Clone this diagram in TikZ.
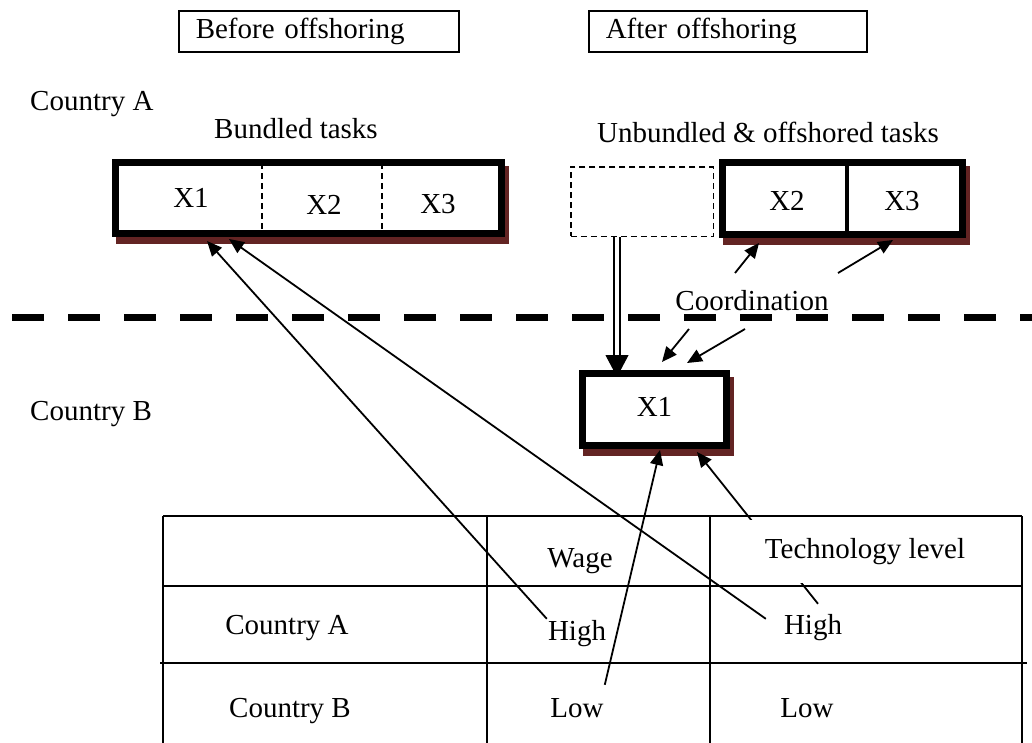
\documentclass[tikz,border=0pt]{standalone}
\usepackage{fontspec}
\setmainfont{Liberation Serif}
\usetikzlibrary{arrows.meta,backgrounds,calc}
\definecolor{shadowred}{RGB}{99,36,35}
\begin{document}
\begin{tikzpicture}[x=1pt,y=-1pt,
  txt/.style={font=\fontsize{29}{35}\selectfont, inner sep=0pt, text height=20pt, text depth=6pt},
  topbox/.style={txt, draw, line width=1.5pt, inner xsep=17pt, inner ysep=7.5pt, align=left, anchor=north west},
  taskbox/.style={txt, draw, line width=7pt, fill=white},
  dashbox/.style={draw, line width=1.5pt, dash pattern=on 6pt off 4pt, fill=white},
  arr/.style={line width=1.8pt, -{Triangle[width=13pt,length=15pt]}},
  tbl/.style={line width=1.5pt},
  shadowfill/.style={fill=shadowred}
]
\useasboundingbox (0,0) rectangle (1032,742);

% header boxes
\node[topbox, text width=246pt] (before) at (178,10) {Before offshoring};
\node[topbox, text width=244pt] (after) at (588,10) {After offshoring};

% country labels
\node[txt, anchor=west] (ca) at (30,103) {Country A};
\node[txt, anchor=west] (cb) at (30,413) {Country B};

\node[txt] (bt) at (296,131) {Bundled tasks};
\node[txt] (ut) at (768,135) {Unbundled \& offshored tasks};

% bundled box
\node[taskbox, minimum width=386pt, minimum height=71pt] (bund) at (308.5,198) {};
\draw[line width=1.5pt, dash pattern=on 6pt off 4pt] (262,163) -- (262,234);
\draw[line width=1.5pt, dash pattern=on 6pt off 4pt] (382,163) -- (382,234);
\node[txt] (bx1) at (191,200) {X1};
\node[txt] (bx2) at (324,207) {X2};
\node[txt] (bx3) at (438,206) {X3};

% after boxes
\node[dashbox, minimum width=142.5pt, minimum height=69.5pt] (dbox) at (642,201.5) {};
\node[taskbox, minimum width=240pt, minimum height=72pt] (x23) at (842.5,198.5) {};
\draw[line width=3.5pt] (847,162) -- (847,235);
\node[txt] (ax2) at (787,203) {X2};
\node[txt] (ax3) at (902,203) {X3};

% border line
\draw[line width=7pt, dash pattern=on 32pt off 24pt] (12,317) -- (1045,317);

\node[txt] (coord) at (752,303) {Coordination};

% X1 in country B
\node[taskbox, minimum width=144pt, minimum height=72pt] (x1b) at (654.5,409.5) {X1};

% shadows
\begin{scope}[on background layer]
  \fill[shadowfill] ([shift={(3.5,7)}]bund.south west) rectangle ([shift={(3.5,7)}]bund.north east);
  \fill[shadowfill] ([shift={(3.5,7)}]x23.south west) rectangle ([shift={(3.5,7)}]x23.north east);
  \fill[shadowfill] ([shift={(3.5,7)}]x1b.south west) rectangle ([shift={(3.5,7)}]x1b.north east);
\end{scope}

% double arrow (offshoring of X1)
\coordinate (dfoot) at ([xshift=47pt]dbox.south west);
\coordinate (dtip) at (dfoot |- x1b.north);
\draw[line width=1.8pt, double, double distance=4pt, shorten >=14pt] (dfoot) -- (dtip);
\draw[line width=1pt, -{Triangle[width=23pt,length=22pt]}] ([yshift=15pt]dtip) -- ([yshift=-7pt]dtip);

% coordination arrows
\draw[arr] ($(coord.center)+(-17,-30)$) -- ([shift={(40,5)}]x23.south west);
\draw[arr] ($(coord.center)+(86,-30)$) -- ([shift={(174,2)}]x23.south west);
\draw[arr] ($(coord.center)+(-63,26)$) -- ([shift={(83,-8)}]x1b.north west);
\draw[arr] ($(coord.center)+(-7,26)$) -- ([shift={(108,-7)}]x1b.north west);

% table texts (needed for anchors)
\node[txt] (hw) at (577,633) {High};
\node[txt] (ht) at (813,627) {High};
\node[txt] (lw) at (577,710) {Low};
\node[txt] (lt) at (807,710) {Low};
\node[txt] (tca) at (287,627) {Country A};
\node[txt] (tcb) at (290,710) {Country B};
\node[txt] (wage) at (580,560) {Wage};

% technology arrow (partly hidden by header cell)
\draw[arr] ([shift={(5,-10)}]ht.north) -- ([shift={(118,3)}]x1b.south west);
\fill[white] (712,520) rectangle (1019,583);
\node[txt] (tech) at (865,551) {Technology level};

% table grid
\draw[tbl] (163,516) -- (1022,516);
\draw[tbl] (163,586) -- (1022,586);
\draw[line width=2.5pt] (160,663) -- (1027,663);
\draw[tbl] (163,516) -- (163,745);
\draw[tbl] (487,516) -- (487,745);
\draw[tbl] (710,516) -- (710,745);
\draw[tbl] (1022,516) -- (1022,745);

% long arrows
\draw[arr] ([shift={(-1,-1)}]hw.north west) -- ([shift={(95,4)}]bund.south west);
\draw[arr] ([shift={(-18,5)}]ht.north west) -- ([shift={(117,2)}]bund.south west);
\draw[arr] ([shift={(1,-12)}]lw.north east) -- ([shift={(81,1)}]x1b.south west);
\end{tikzpicture}
\end{document}
